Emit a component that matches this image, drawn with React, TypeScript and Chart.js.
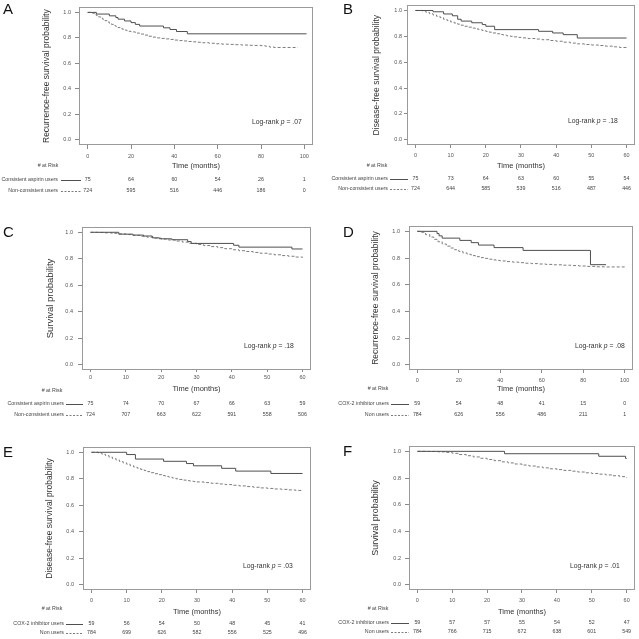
import React, { useEffect, useRef } from "react";
import { Chart, registerables } from "chart.js";

Chart.register(...registerables);

// ---------------- Data ----------------
type Pt = [number, number];

const Y_TICKS = [0, 0.2, 0.4, 0.6, 0.8, 1.0];
const TICKS_100 = [0, 20, 40, 60, 80, 100];
const TICKS_60 = [0, 10, 20, 30, 40, 50, 60];

const ASPIRIN_GROUPS = ["Consistent aspirin users", "Non-consistent users"];
const COX2_GROUPS = ["COX-2 inhibitor users", "Non users"];

const TITLE_RFS = "Recurrence-free survival probability";
const TITLE_DFS = "Disease-free survival probability";
const TITLE_OS = "Survival probability";
const X_TITLE = "Time (months)";

// Panel A – aspirin, recurrence-free survival
const A_USERS: Pt[] = [[0, 1], [4, 0.987], [10, 0.973], [13, 0.96], [14, 0.947], [17, 0.933], [20, 0.92], [22, 0.906], [24, 0.893], [35, 0.879], [38, 0.866], [41, 0.85], [46, 0.832], [101, 0.832]];
const A_NONUSERS: Pt[] = [[0, 1], [2, 0.995], [3, 0.985], [4, 0.975], [5, 0.965], [6, 0.955], [7, 0.945], [8, 0.935], [9, 0.925], [10, 0.915], [11, 0.906], [12, 0.897], [13, 0.889], [14, 0.881], [15, 0.874], [16, 0.868], [17, 0.862], [18, 0.857], [19, 0.852], [20, 0.847], [22, 0.838], [24, 0.83], [26, 0.822], [28, 0.813], [30, 0.806], [32, 0.8], [34, 0.796], [36, 0.792], [38, 0.788], [40, 0.783], [42, 0.779], [44, 0.776], [46, 0.772], [48, 0.769], [50, 0.766], [53, 0.762], [56, 0.758], [59, 0.754], [62, 0.751], [65, 0.749], [68, 0.747], [71, 0.744], [74, 0.742], [77, 0.741], [80, 0.739], [82, 0.735], [84, 0.728], [86, 0.725], [97, 0.725]];
const A_RISK_USERS = [75, 64, 60, 54, 26, 1];
const A_RISK_NONUSERS = [724, 595, 516, 446, 186, 0];

// Panel B – aspirin, disease-free survival
const B_USERS: Pt[] = [[0, 1], [5, 0.99], [8, 0.973], [10.5, 0.959], [12, 0.932], [13, 0.918], [16, 0.905], [19, 0.891], [20, 0.878], [22.5, 0.852], [35, 0.839], [39, 0.826], [42, 0.813], [46, 0.787], [60, 0.787]];
const B_NONUSERS: Pt[] = [[0, 1], [2, 0.995], [3, 0.985], [4, 0.975], [5, 0.965], [6, 0.955], [7, 0.945], [8, 0.932], [9, 0.922], [10, 0.912], [11, 0.903], [12, 0.894], [13, 0.886], [14, 0.878], [15, 0.871], [16, 0.864], [17, 0.857], [18, 0.851], [19, 0.845], [20, 0.838], [21, 0.832], [22, 0.826], [23, 0.82], [24, 0.814], [25, 0.809], [26, 0.804], [27, 0.8], [28, 0.796], [29, 0.792], [30, 0.788], [32, 0.783], [34, 0.779], [36, 0.774], [38, 0.768], [40, 0.762], [42, 0.755], [44, 0.748], [46, 0.742], [48, 0.737], [50, 0.733], [52, 0.729], [54, 0.724], [56, 0.719], [58, 0.714], [60, 0.709]];
const B_RISK_USERS = [75, 73, 64, 63, 60, 55, 54];
const B_RISK_NONUSERS = [724, 644, 585, 539, 516, 487, 446];

// Panel C – aspirin, overall survival
const C_USERS: Pt[] = [[0, 1], [8, 0.986], [12, 0.979], [15, 0.972], [17.5, 0.958], [19.5, 0.951], [23, 0.944], [27.5, 0.93], [28.5, 0.916], [40.5, 0.902], [42, 0.888], [57, 0.874], [60, 0.874]];
const C_NONUSERS: Pt[] = [[0, 1], [2, 0.999], [4, 0.996], [6, 0.992], [8, 0.988], [10, 0.983], [12, 0.977], [14, 0.97], [16, 0.963], [18, 0.956], [20, 0.949], [22, 0.942], [24, 0.934], [26, 0.926], [28, 0.917], [30, 0.908], [32, 0.9], [34, 0.892], [36, 0.884], [38, 0.876], [40, 0.868], [42, 0.861], [44, 0.855], [46, 0.848], [48, 0.842], [50, 0.836], [52, 0.83], [54, 0.824], [56, 0.819], [58, 0.813], [60, 0.808]];
const C_RISK_USERS = [75, 74, 70, 67, 66, 63, 59];
const C_RISK_NONUSERS = [724, 707, 663, 622, 591, 558, 506];

// Panel D – COX-2, recurrence-free survival
const D_USERS: Pt[] = [[0, 1], [9.5, 0.983], [10.5, 0.966], [12, 0.949], [20.5, 0.932], [26, 0.915], [29.5, 0.897], [37, 0.878], [51, 0.857], [83.5, 0.75], [91, 0.75]];
const D_NONUSERS: Pt[] = [[0, 1], [2, 0.993], [4, 0.975], [6, 0.957], [8, 0.94], [10, 0.922], [12, 0.905], [14, 0.889], [16, 0.875], [18, 0.862], [20, 0.85], [22, 0.838], [24, 0.828], [26, 0.818], [28, 0.81], [30, 0.803], [32, 0.797], [34, 0.791], [36, 0.786], [38, 0.782], [40, 0.778], [43, 0.773], [46, 0.769], [49, 0.765], [52, 0.761], [55, 0.758], [58, 0.755], [62, 0.752], [66, 0.749], [70, 0.746], [74, 0.743], [78, 0.74], [82, 0.737], [86, 0.734], [90, 0.733], [100, 0.732]];
const D_RISK_USERS = [59, 54, 48, 41, 15, 0];
const D_RISK_NONUSERS = [784, 626, 556, 486, 211, 1];

// Panel E – COX-2, disease-free survival
const E_USERS: Pt[] = [[0, 1], [10, 0.983], [12.5, 0.949], [20.5, 0.932], [27, 0.915], [29, 0.898], [37, 0.879], [41, 0.858], [51, 0.84], [60, 0.84]];
const E_NONUSERS: Pt[] = [[0, 1], [2, 0.995], [3, 0.985], [4, 0.975], [5, 0.963], [6, 0.952], [7, 0.941], [8, 0.93], [9, 0.92], [10, 0.91], [11, 0.899], [12, 0.889], [13, 0.88], [14, 0.871], [15, 0.862], [16, 0.854], [17, 0.846], [18, 0.838], [19, 0.831], [20, 0.824], [21, 0.818], [22, 0.812], [23, 0.806], [24, 0.8], [25, 0.795], [26, 0.79], [27, 0.786], [28, 0.782], [29, 0.779], [30, 0.776], [32, 0.771], [34, 0.766], [36, 0.761], [38, 0.756], [40, 0.751], [42, 0.746], [44, 0.741], [46, 0.736], [48, 0.731], [50, 0.727], [52, 0.723], [54, 0.72], [56, 0.716], [58, 0.712], [60, 0.708]];
const E_RISK_USERS = [59, 56, 54, 50, 48, 45, 41];
const E_RISK_NONUSERS = [784, 699, 626, 582, 556, 525, 496];

// Panel F – COX-2, overall survival
const F_USERS: Pt[] = [[0, 1], [25, 0.982], [52, 0.963], [59.7, 0.946], [60, 0.946]];
const F_NONUSERS: Pt[] = [[0, 1], [3, 0.999], [6, 0.996], [8, 0.992], [10, 0.985], [12, 0.976], [14, 0.967], [16, 0.958], [18, 0.948], [20, 0.939], [22, 0.93], [24, 0.921], [26, 0.913], [28, 0.905], [30, 0.897], [32, 0.89], [34, 0.883], [36, 0.876], [38, 0.869], [40, 0.863], [42, 0.857], [44, 0.851], [46, 0.845], [48, 0.839], [50, 0.834], [52, 0.829], [54, 0.823], [56, 0.817], [58, 0.81], [60, 0.803]];
const F_RISK_USERS = [59, 57, 57, 55, 54, 52, 47];
const F_RISK_NONUSERS = [784, 766, 715, 672, 638, 601, 549];

const P_VALUES = [".07", ".18", ".18", ".08", ".03", ".01"];

// ---------------- Styles / layout ----------------
const FONT = "'Liberation Sans', Arial, Helvetica, sans-serif";
const SOLID = "#4f4f4f";
const DASHED = "#7c7c7c";
const BOX = "#9a9a9a";
const TICK_MARK = "#8a8a8a";
const TICK_TEXT = "#555";
const TEXT = "#333";

interface Layout {
  rect: [number, number, number, number];
  box: { l: number; t: number; r: number; b: number };
  yTitleX: number;
  yTitleSize: number;
  timeY: number;
  xTl: number;
  xPad: number;
  yTl: number;
  yPad: number;
  letter: [number, number];
  logRank: [number, number];
  atRisk: [number, number];
  rows: [number, number];
  labelRight: number;
  line: [number, number];
}

interface PanelDef {
  letter: string;
  yTitle: string;
  xTicks: number[];
  xMax: number;
  users: Pt[];
  nonUsers: Pt[];
  riskUsers: number[];
  riskNonUsers: number[];
  groups: string[];
  p: string;
  L: Layout;
}

const PANELS: PanelDef[] = [
  {
    letter: "A", yTitle: TITLE_RFS, xTicks: TICKS_100, xMax: 100,
    users: A_USERS, nonUsers: A_NONUSERS, riskUsers: A_RISK_USERS, riskNonUsers: A_RISK_NONUSERS,
    groups: ASPIRIN_GROUPS, p: P_VALUES[0],
    L: { rect: [0, 0, 320, 205], box: { l: 79, t: 3, r: 313, b: 145 }, yTitleX: 47, yTitleSize: 8.5, timeY: 166,
      xTl: 4, xPad: 4, yTl: 4, yPad: 4, letter: [3, 14], logRank: [252, 122], atRisk: [48, 166], rows: [180, 191], labelRight: 58, line: [61, 81] },
  },
  {
    letter: "B", yTitle: TITLE_DFS, xTicks: TICKS_60, xMax: 60,
    users: B_USERS, nonUsers: B_NONUSERS, riskUsers: B_RISK_USERS, riskNonUsers: B_RISK_NONUSERS,
    groups: ASPIRIN_GROUPS, p: P_VALUES[1],
    L: { rect: [320, 0, 319, 205], box: { l: 407, t: 2, r: 635, b: 145 }, yTitleX: 377, yTitleSize: 8.5, timeY: 166,
      xTl: 3, xPad: 4, yTl: 3, yPad: 2, letter: [343, 14], logRank: [568, 121], atRisk: [377, 166], rows: [179, 189], labelRight: 388, line: [390, 408] },
  },
  {
    letter: "C", yTitle: TITLE_OS, xTicks: TICKS_60, xMax: 60,
    users: C_USERS, nonUsers: C_NONUSERS, riskUsers: C_RISK_USERS, riskNonUsers: C_RISK_NONUSERS,
    groups: ASPIRIN_GROUPS, p: P_VALUES[2],
    L: { rect: [0, 205, 320, 220], box: { l: 82, t: 227, r: 311, b: 370 }, yTitleX: 50, yTitleSize: 9.5, timeY: 389,
      xTl: 2, xPad: 2, yTl: 4, yPad: 5, letter: [3, 237], logRank: [244, 346], atRisk: [52, 391], rows: [404, 415], labelRight: 64, line: [66, 83] },
  },
  {
    letter: "D", yTitle: TITLE_RFS, xTicks: TICKS_100, xMax: 100,
    users: D_USERS, nonUsers: D_NONUSERS, riskUsers: D_RISK_USERS, riskNonUsers: D_RISK_NONUSERS,
    groups: COX2_GROUPS, p: P_VALUES[3],
    L: { rect: [320, 205, 319, 220], box: { l: 409, t: 226, r: 633, b: 370 }, yTitleX: 376, yTitleSize: 8.5, timeY: 389,
      xTl: 3, xPad: 4, yTl: 4, yPad: 5, letter: [343, 237], logRank: [575, 346], atRisk: [378, 389], rows: [404, 415], labelRight: 389, line: [391, 409] },
  },
  {
    letter: "E", yTitle: TITLE_DFS, xTicks: TICKS_60, xMax: 60,
    users: E_USERS, nonUsers: E_NONUSERS, riskUsers: E_RISK_USERS, riskNonUsers: E_RISK_NONUSERS,
    groups: COX2_GROUPS, p: P_VALUES[4],
    L: { rect: [0, 425, 320, 214], box: { l: 83, t: 447, r: 311, b: 590 }, yTitleX: 50, yTitleSize: 8.5, timeY: 612,
      xTl: 3, xPad: 4, yTl: 4, yPad: 5, letter: [3, 457], logRank: [243, 566], atRisk: [52, 609], rows: [624, 633], labelRight: 64, line: [66, 83] },
  },
  {
    letter: "F", yTitle: TITLE_OS, xTicks: TICKS_60, xMax: 60,
    users: F_USERS, nonUsers: F_NONUSERS, riskUsers: F_RISK_USERS, riskNonUsers: F_RISK_NONUSERS,
    groups: COX2_GROUPS, p: P_VALUES[5],
    L: { rect: [320, 425, 319, 214], box: { l: 409, t: 446, r: 635, b: 590 }, yTitleX: 376, yTitleSize: 9, timeY: 612,
      xTl: 3, xPad: 4, yTl: 4, yPad: 4, letter: [343, 456], logRank: [570, 566], atRisk: [378, 609], rows: [623, 632], labelRight: 389, line: [391, 409] },
  },
];

const X_TITLE_SIZE = 7.5;
const SMALL = 5.5;
const RISK_SIZE = 5.3;
const LOGRANK_SIZE = 6.8;

function Panel({ def }: { def: PanelDef }) {
  const ref = useRef<HTMLCanvasElement>(null);
  const L = def.L;
  const [rx, ry, rw, rh] = L.rect;

  useEffect(() => {
    if (!ref.current) return;
    const overlay = {
      id: "kmOverlay",
      afterDraw(chart: any) {
        const ctx = chart.ctx as CanvasRenderingContext2D;
        const { left, top, right, bottom } = chart.chartArea;
        ctx.save();
        // frame box
        ctx.strokeStyle = BOX;
        ctx.lineWidth = 1;
        ctx.setLineDash([]);
        ctx.strokeRect(Math.round(left) + 0.5, Math.round(top) + 0.5, Math.round(right - left) - 1, Math.round(bottom - top) - 1);

        // panel letter
        ctx.fillStyle = "#111";
        ctx.font = `15px ${FONT}`;
        ctx.textAlign = "left";
        ctx.textBaseline = "alphabetic";
        ctx.fillText(def.letter, L.letter[0] - rx, L.letter[1] - ry);

        // log-rank annotation
        ctx.fillStyle = TEXT;
        ctx.textBaseline = "middle";
        let tx = L.logRank[0] - rx;
        const ty = L.logRank[1] - ry;
        ctx.font = `${LOGRANK_SIZE}px ${FONT}`;
        const s1 = "Log-rank ";
        ctx.fillText(s1, tx, ty);
        tx += ctx.measureText(s1).width;
        ctx.font = `italic ${LOGRANK_SIZE}px ${FONT}`;
        ctx.fillText("p", tx, ty);
        tx += ctx.measureText("p").width;
        ctx.font = `${LOGRANK_SIZE}px ${FONT}`;
        ctx.fillText(` = ${def.p}`, tx, ty);

        // risk table
        const xs = def.xTicks.map((v) => chart.scales.x.getPixelForValue(v));
        ctx.font = `${RISK_SIZE}px ${FONT}`;
        ctx.fillStyle = "#444";
        ctx.textAlign = "center";
        ctx.fillText("# at Risk", L.atRisk[0] - rx, L.atRisk[1] - ry);
        const series = [def.riskUsers, def.riskNonUsers];
        series.forEach((vals, i) => {
          const y = L.rows[i] - ry;
          ctx.fillStyle = "#444";
          ctx.textAlign = "right";
          ctx.fillText(def.groups[i], L.labelRight - rx, y);
          ctx.beginPath();
          ctx.strokeStyle = i === 0 ? SOLID : DASHED;
          ctx.setLineDash(i === 0 ? [] : [2, 1.5]);
          ctx.moveTo(L.line[0] - rx, Math.round(y) + 0.5);
          ctx.lineTo(L.line[1] - rx, Math.round(y) + 0.5);
          ctx.stroke();
          ctx.setLineDash([]);
          ctx.textAlign = "center";
          vals.forEach((v, j) => ctx.fillText(String(v), xs[j], y));
        });
        ctx.restore();
      },
    };

    const xLh = X_TITLE_SIZE * 1.2;
    const yLh = L.yTitleSize * 1.2;

    const chart = new Chart(ref.current, {
      type: "line",
      data: {
        datasets: [
          {
            data: def.users.map(([x, y]) => ({ x, y })),
            borderColor: SOLID,
            borderWidth: 1,
            stepped: true,
            pointRadius: 0,
            fill: false,
          },
          {
            data: def.nonUsers.map(([x, y]) => ({ x, y })),
            borderColor: DASHED,
            borderWidth: 1,
            borderDash: [3, 2],
            stepped: true,
            pointRadius: 0,
            fill: false,
          },
        ],
      },
      options: {
        responsive: false,
        maintainAspectRatio: false,
        animation: false,
        events: [],
        layout: {
          autoPadding: false,
          padding: { left: 0, top: L.box.t - ry, right: rx + rw - L.box.r, bottom: 0 },
        },
        plugins: { legend: { display: false }, tooltip: { enabled: false } },
        scales: {
          x: {
            type: "linear",
            min: -0.04 * def.xMax,
            max: 1.04 * def.xMax,
            afterBuildTicks: (s: any) => {
              s.ticks = def.xTicks.map((v) => ({ value: v }));
            },
            afterFit: (s: any) => {
              s.height = ry + rh - L.box.b;
            },
            ticks: {
              autoSkip: false,
              maxRotation: 0,
              padding: L.xPad,
              color: TICK_TEXT,
              font: { size: SMALL, family: FONT },
              callback: (v: any) => String(v),
            },
            grid: { drawOnChartArea: false, drawTicks: true, tickLength: L.xTl, color: TICK_MARK },
            border: { display: false },
            title: {
              display: true,
              text: X_TITLE,
              color: TEXT,
              font: { size: X_TITLE_SIZE, family: FONT },
              padding: { top: 0, bottom: rh - (L.timeY - ry) - xLh / 2 },
            },
          },
          y: {
            type: "linear",
            min: -0.04,
            max: 1.04,
            afterBuildTicks: (s: any) => {
              s.ticks = Y_TICKS.map((v) => ({ value: v }));
            },
            afterFit: (s: any) => {
              s.width = L.box.l - rx;
            },
            ticks: {
              padding: L.yPad,
              color: TICK_TEXT,
              font: { size: SMALL, family: FONT },
              callback: (v: any) => Number(v).toFixed(1),
            },
            grid: { drawOnChartArea: false, drawTicks: true, tickLength: L.yTl, color: TICK_MARK },
            border: { display: false },
            title: {
              display: true,
              text: def.yTitle,
              color: TEXT,
              font: { size: L.yTitleSize, family: FONT },
              padding: { top: L.yTitleX - rx - yLh / 2, bottom: 0 },
            },
          },
        },
      } as any,
      plugins: [overlay],
    });
    return () => chart.destroy();
  }, [def]);

  return (
    <canvas
      ref={ref}
      width={rw}
      height={rh}
      style={{ position: "absolute", left: rx, top: ry, width: rw, height: rh }}
    />
  );
}

export default function App() {
  useEffect(() => {
    document.body.style.margin = "0";
  }, []);
  return (
    <div style={{ position: "fixed", left: 0, top: 0, width: 639, height: 639, background: "#fff", overflow: "hidden" }}>
      {PANELS.map((p) => (
        <Panel key={p.letter} def={p} />
      ))}
    </div>
  );
}
